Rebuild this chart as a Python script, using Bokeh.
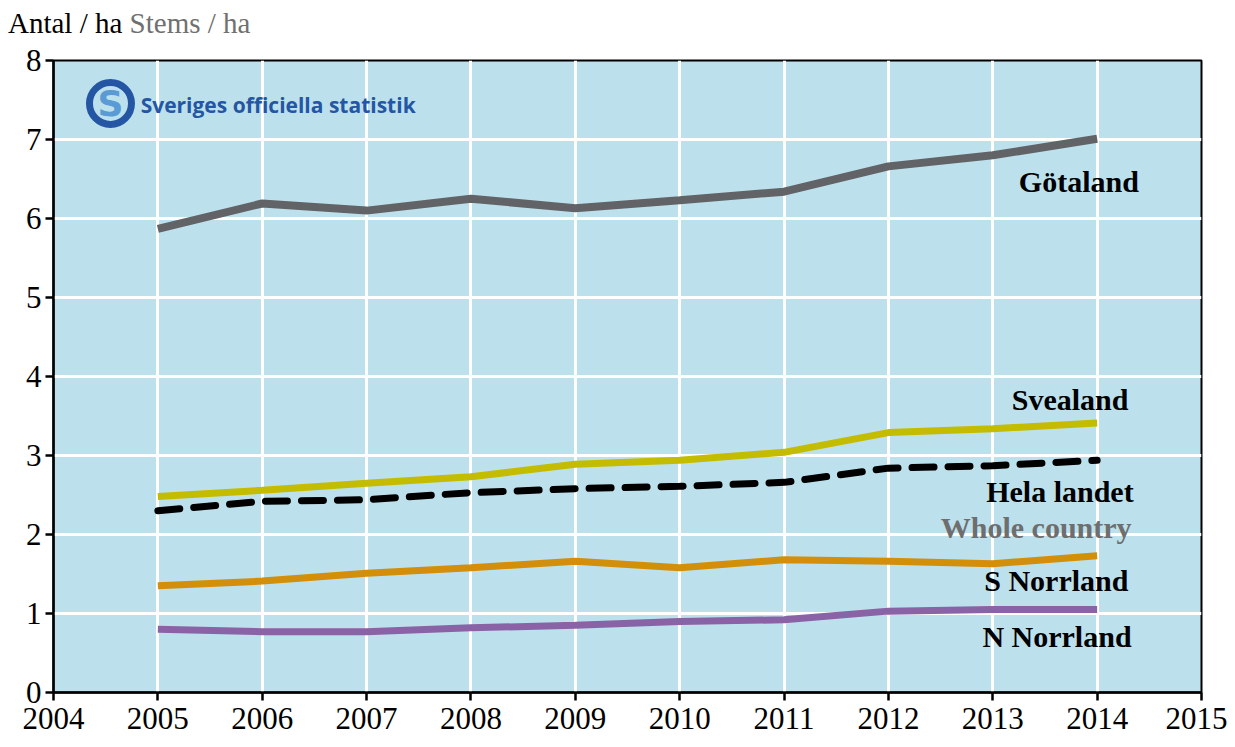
from bokeh.plotting import figure
from bokeh.models import Label, FixedTicker, Range1d, Div
from bokeh.layouts import column
from bokeh.embed import file_html
from bokeh.resources import INLINE

years = [2005, 2006, 2007, 2008, 2009, 2010, 2011, 2012, 2013, 2014]
gotaland = [5.87, 6.19, 6.10, 6.25, 6.13, 6.23, 6.34, 6.66, 6.80, 7.01]
svealand = [2.48, 2.56, 2.65, 2.73, 2.89, 2.94, 3.04, 3.29, 3.34, 3.41]
hela_landet = [2.30, 2.42, 2.44, 2.53, 2.58, 2.61, 2.66, 2.84, 2.87, 2.94]
s_norrland = [1.35, 1.41, 1.51, 1.58, 1.66, 1.58, 1.68, 1.66, 1.63, 1.73]
n_norrland = [0.80, 0.77, 0.77, 0.82, 0.85, 0.90, 0.92, 1.03, 1.05, 1.05]
x_ticks = list(range(2004, 2016))
y_ticks = list(range(0, 9))

SERIF = "Liberation Serif"

title = Div(text='<span style="color:black">Antal / ha</span> '
                 '<span style="color:#707070">Stems / ha</span>',
            width=1227, height=41, margin=(0, 0, 0, 0),
            styles={"font-family": SERIF, "font-size": "29px", "line-height": "36px",
                    "padding-top": "5px", "padding-left": "8px", "white-space": "nowrap"})

p = figure(width=1227, height=698, output_backend="svg", toolbar_location=None,
           x_range=Range1d(2004, 2015), y_range=Range1d(0, 8),
           min_border_left=53, min_border_right=26, min_border_top=19, min_border_bottom=47,
           margin=(0, 0, 0, 0))
p.background_fill_color = "#BCE1EC"
p.border_fill_color = "white"
p.outline_line_color = "black"
p.outline_line_width = 2

for ax in (p.xaxis[0], p.yaxis[0]):
    ax.axis_line_color = "black"
    ax.axis_line_width = 2.5
    ax.major_tick_line_color = "black"
    ax.major_tick_line_width = 2.5
    ax.major_tick_in = 0
    ax.major_tick_out = 8
    ax.minor_tick_line_color = None
    ax.major_label_text_font = SERIF
    ax.major_label_text_font_size = "31px"
    ax.major_label_text_color = "black"
p.xaxis[0].ticker = FixedTicker(ticks=x_ticks)
p.yaxis[0].ticker = FixedTicker(ticks=y_ticks)
p.xaxis[0].major_label_standoff = 7
p.yaxis[0].major_label_standoff = 4

p.xgrid[0].ticker = FixedTicker(ticks=x_ticks)
p.ygrid[0].ticker = FixedTicker(ticks=y_ticks)
for g in (p.xgrid[0], p.ygrid[0]):
    g.grid_line_color = "white"
    g.grid_line_width = 3
    g.grid_line_alpha = 1.0

p.line(years, gotaland, line_color="#626367", line_width=8)
p.line(years, svealand, line_color="#C4BC00", line_width=7)
p.line(years, hela_landet, line_color="black", line_width=7, line_dash="22 14", line_cap="round")
p.line(years, s_norrland, line_color="#D38E0A", line_width=7)
p.line(years, n_norrland, line_color="#8A62A6", line_width=7)

def lab(text, x, y, color="black", size="30px"):
    p.add_layout(Label(x=x, y=y, text=text, text_font=SERIF, text_font_size=size,
                       text_font_style="bold", text_color=color,
                       text_align="right", text_baseline="middle"))

lab("Götaland", 2014.40, 6.47)
lab("Svealand", 2014.30, 3.71)
lab("Hela landet", 2014.35, 2.55)
lab("Whole country", 2014.33, 2.09, color="#6E6E6E")
lab("S Norrland", 2014.30, 1.42)
lab("N Norrland", 2014.33, 0.71)

# logo
p.scatter([2004.546], [7.456], size=42, marker="circle", fill_color=None,
          line_color="#2456A4", line_width=7)
p.add_layout(Label(x=2004.546, y=7.45, text="S", text_font="DejaVu Sans", text_font_size="36px",
                   text_font_style="bold", text_color="#5B9BD5", text_align="center",
                   text_baseline="middle"))
p.add_layout(Label(x=2004.835, y=7.44, text="Sveriges officiella statistik", text_font="Open Sans",
                   text_font_size="21px", text_font_style="bold", text_color="#2456A4",
                   text_align="left", text_baseline="middle"))

layout = column(title, p, spacing=0, margin=(0, 0, 0, 0))
open("out.html", "w").write(file_html(layout, INLINE))
